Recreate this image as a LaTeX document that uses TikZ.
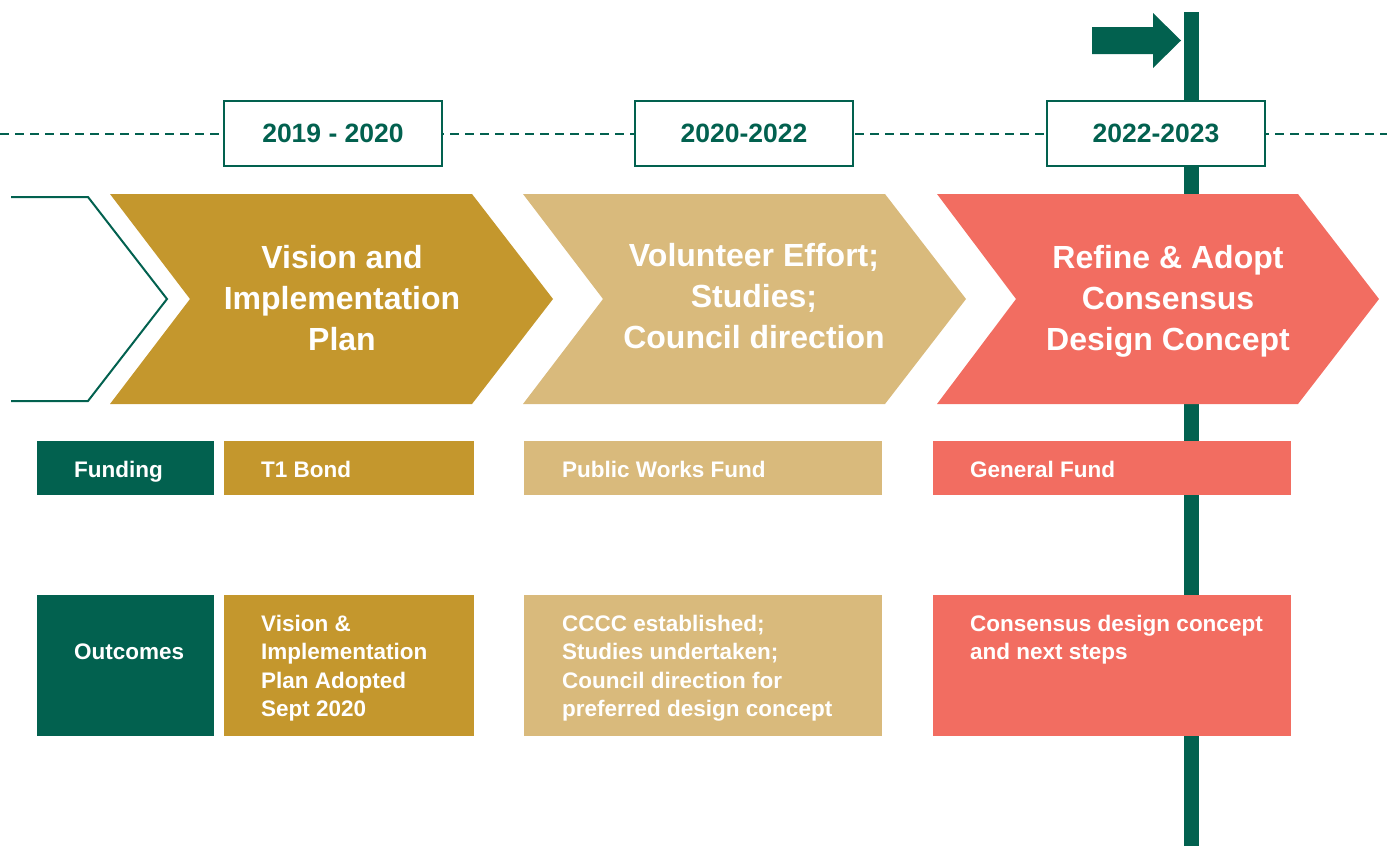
\documentclass[tikz,border=0pt]{standalone}
\usepackage{fontspec}
\setmainfont{Liberation Sans}
\definecolor{dgreen}{HTML}{02614F}
\definecolor{gold}{HTML}{C4972D}
\definecolor{tan}{HTML}{D9BA7C}
\definecolor{salmon}{HTML}{F26D61}
\begin{document}
\begin{tikzpicture}[x=1pt,y=-1pt,
  heading/.style={text=white, font=\bfseries\fontsize{32}{41}\selectfont, align=center, inner sep=0, anchor=north},
  yearbox/.style={draw=dgreen, line width=2.2pt, fill=white, minimum width=218pt, minimum height=65pt, inner sep=0,
                  font=\bfseries\fontsize{26.5}{30}\selectfont, text=dgreen},
  infobox/.style={rectangle, inner sep=0, anchor=north west},
  boxlabel/.style={text=white, font=\bfseries\fontsize{22.5}{28.5}\selectfont, inner sep=0, anchor=base west},
  boxtext/.style={text=white, font=\bfseries\fontsize{22.5}{28.5}\selectfont, align=left, inner sep=0, anchor=north west}
]
\useasboundingbox (0,0) rectangle (1387,846);

% timeline dashed line
\coordinate (dl) at (0,133.5);
\coordinate (dr) at (1387,133.5);
\draw[dgreen, line width=2pt, dash pattern=on 9pt off 6pt] (dl) -- (dr);

% vertical "now" bar and arrow
\fill[dgreen] (1184,12) rectangle (1199,846);
\fill[dgreen] (1092,27) -- (1153,27) -- (1153,13) -- (1181,40.5) -- (1153,68) -- (1153,54) -- (1092,54) -- cycle;

% year boxes
\node[yearbox] (y1) at (333,133.5) {2019 - 2020};
\node[yearbox] (y2) at (744,133.5) {2020-2022};
\node[yearbox] (y3) at (1156,133.5) {2022-2023};

% outline chevron at left
\draw[dgreen, line width=2pt] (11,197) -- (88,197) -- (167,299) -- (88,401) -- (11,401);

% chevrons
\fill[gold] (110,194) -- (472,194) -- (553,299) -- (472,404) -- (110,404) -- (190,299) -- cycle;
\fill[tan] (523,194) -- (885,194) -- (966,299) -- (885,404) -- (523,404) -- (603,299) -- cycle;
\fill[salmon] (937,194) -- (1298,194) -- (1379,299) -- (1298,404) -- (937,404) -- (1016,299) -- cycle;

\node[heading] (h1) at (342,245.5) {Vision and\\Implementation\\Plan};
\node[heading] (h2) at (754,243.5) {Volunteer Effort;\\Studies;\\Council direction};
\node[heading] (h3) at (1168,245.5) {Refine \& Adopt\\Consensus\\Design Concept};

% funding row
\node[infobox, fill=dgreen, minimum width=177pt, minimum height=54pt] (fb) at (37,441) {};
\node[infobox, fill=gold, minimum width=250pt, minimum height=54pt] (f1) at (224,441) {};
\node[infobox, fill=tan, minimum width=358pt, minimum height=54pt] (f2) at (524,441) {};
\node[infobox, fill=salmon, minimum width=358pt, minimum height=54pt] (f3) at (933,441) {};
\node[boxlabel] (fbt) at (74,477) {Funding};
\node[boxlabel] (f1t) at (261,477) {T1 Bond};
\node[boxlabel] (f2t) at (562,477) {Public Works Fund};
\node[boxlabel] (f3t) at (970,477) {General Fund};

% outcomes row
\node[infobox, fill=dgreen, minimum width=177pt, minimum height=141pt] (ob) at (37,595) {};
\node[infobox, fill=gold, minimum width=250pt, minimum height=141pt] (o1) at (224,595) {};
\node[infobox, fill=tan, minimum width=358pt, minimum height=141pt] (o2) at (524,595) {};
\node[infobox, fill=salmon, minimum width=358pt, minimum height=141pt] (o3) at (933,595) {};
\node[boxlabel] (obt) at (74,659) {Outcomes};
\node[boxtext] (o1t) at (261,614.5) {Vision \&\\Implementation\\Plan Adopted\\Sept 2020};
\node[boxtext] (o2t) at (562,614.5) {CCCC established;\\Studies undertaken;\\Council direction for\\preferred design concept};
\node[boxtext] (o3t) at (970,614.5) {Consensus design concept\\and next steps};
\end{tikzpicture}
\end{document}
